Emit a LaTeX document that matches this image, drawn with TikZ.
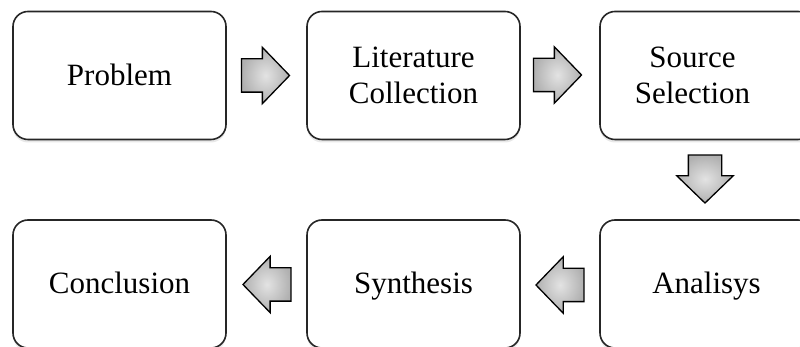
\documentclass[tikz,border=0pt]{standalone}
\usepackage{fontspec}
\setmainfont{Liberation Serif}
\usetikzlibrary{shapes.arrows,shadows}
\tikzset{
  stagebox/.style={draw=black!85, line width=1.6pt, rounded corners=15pt, fill=white,
    minimum width=213pt, minimum height=128pt, align=center, inner sep=0pt,
    font=\fontsize{31}{36}\selectfont,
    drop shadow={opacity=0.18, shadow xshift=0pt, shadow yshift=-3pt}},
  oneline/.style={text height=20pt, text depth=0pt},
  flowarrow/.style={single arrow, draw=black, line width=1.3pt, line join=miter,
    inner xsep=0pt, inner ysep=16pt, minimum height=48pt,
    single arrow head extend=11.5pt, single arrow tip angle=92,
    inner color=gray!22, outer color=gray!62},
  txt/.style={align=center, font=\fontsize{31}{36}\selectfont}
}
\begin{document}
\begin{tikzpicture}[x=1pt,y=1pt]
\useasboundingbox (0,0) rectangle (800,347);
\node[stagebox, oneline] (prob) at (119.5,271.5) {Problem};
\node[stagebox] (lit)  at (413.5,271.5) {Literature\\Collection};
\node[stagebox] (src)  at (706.5,271.5) {};
\node[txt] (srct) at (692.5,271.5) {Source\\Selection};
\node[stagebox, oneline] (conc) at (119.5,63) {Conclusion};
\node[stagebox, oneline] (syn)  at (413.5,63) {Synthesis};
\node[stagebox, oneline] (ana)  at (706.5,63) {Analisys};
\node[flowarrow] (a1) at (257.5,271.5) {};
\node[flowarrow] (a2) at (549.5,272) {};
\node[flowarrow, rotate=-90] (a3) at (705,176) {};
\node[flowarrow, rotate=180] (a4) at (568,62) {};
\node[flowarrow, rotate=180] (a5) at (275,62.5) {};
\end{tikzpicture}
\end{document}
